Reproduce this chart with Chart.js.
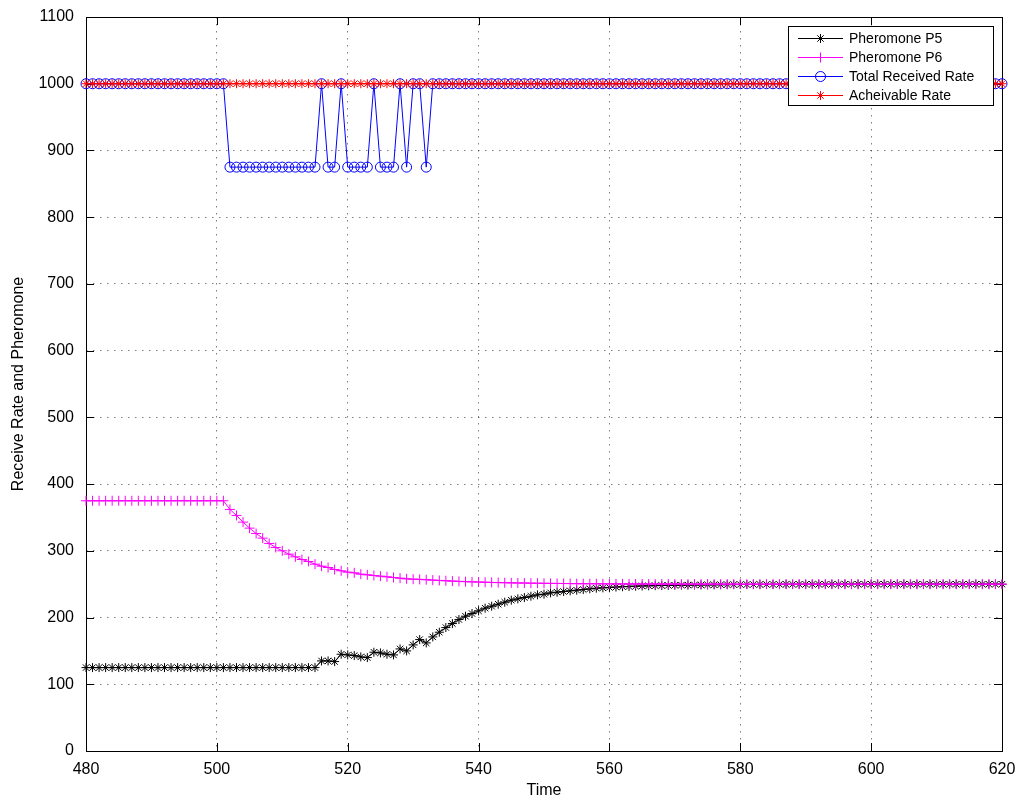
<!DOCTYPE html>
<html>
<head>
<meta charset="utf-8">
<script src="https://cdn.jsdelivr.net/npm/chart.js@4.4.1/dist/chart.umd.min.js"></script>
<style>
html,body{margin:0;padding:0;background:#fff;}
#wrap{width:1024px;height:802px;}
</style>
</head>
<body>
<div id="wrap"><canvas id="c" width="1024" height="802"></canvas></div>
<script>
const times = [480,481,482,483,484,485,486,487,488,489,490,491,492,493,494,495,496,497,498,499,
500,501,502,503,504,505,506,507,508,509,510,511,512,513,514,515,516,517,518,519,
520,521,522,523,524,525,526,527,528,529,530,531,532,533,534,535,536,537,538,539,
540,541,542,543,544,545,546,547,548,549,550,551,552,553,554,555,556,557,558,559,
560,561,562,563,564,565,566,567,568,569,570,571,572,573,574,575,576,577,578,579,
580,581,582,583,584,585,586,587,588,589,590,591,592,593,594,595,596,597,598,599,
600,601,602,603,604,605,606,607,608,609,610,611,612,613,614,615,616,617,618,619,620];

const pheromoneP5 = [
125,125,125,125,125,125,125,125,125,125,125,125,125,125,125,125,125,125,125,125, // 480-499
125,125,125,125,125,125,125,125,125,125,125,125,125,125,125,125,135,135,134,145, // 500-519
144,143,141,140,148,147,145,144,153,150,159,167,162,171,178,185,191,197,202,206, // 520-539
210,214,217,220,223,226,228,230,232,234,235,237,238,239,240,241,242,243,244,244.5, // 540-559
245.2,245.7,246.2,246.6,247,247.3,247.6,247.8,248,248.2,248.4,248.6,248.7,248.8,248.9,249,249.1,249.2,249.3,249.4, // 560-579
249.5,249.5,249.6,249.6,249.7,249.7,249.7,249.8,249.8,249.8,249.8,249.9,249.9,249.9,249.9,249.9,250,250,250,250, // 580-599
250,250,250,250,250,250,250,250,250,250,250,250,250,250,250,250,250,250,250,250,250 // 600-620
];

const pheromoneP6 = [
375,375,375,375,375,375,375,375,375,375,375,375,375,375,375,375,375,375,375,375, // 480-499
375,375,362,353,343,334,326,319,311,305,300,295,291,287,284,280,277,275,272,270, // 500-519
268,267,265,264,263,262,261,260,259,258,257.5,257.2,256.7,256.1,255.6,255.1,254.6,254.2,253.8,253.5, // 520-539
253.2,252.9,252.6,252.4,252.2,252.0,251.8,251.7,251.5,251.4,251.3,251.2,251.1,251.0,250.9,250.8,250.7,250.7,250.6,250.6, // 540-559
250.5,250.5,250.4,250.4,250.3,250.3,250.3,250.2,250.2,250.2,250.2,250.1,250.1,250.1,250.1,250.1,250.1,250.1,250.1,250.1, // 560-579
250,250,250,250,250,250,250,250,250,250,250,250,250,250,250,250,250,250,250,250, // 580-599
250,250,250,250,250,250,250,250,250,250,250,250,250,250,250,250,250,250,250,250,250 // 600-620
];

const totalReceivedRate = [
1000,1000,1000,1000,1000,1000,1000,1000,1000,1000,1000,1000,1000,1000,1000,1000,1000,1000,1000,1000, // 480-499
1000,1000,875,875,875,875,875,875,875,875,875,875,875,875,875,875,1000,875,875,1000, // 500-519
875,875,875,875,1000,875,875,875,1000,875,1000,1000,875,1000,1000,1000,1000,1000,1000,1000, // 520-539
1000,1000,1000,1000,1000,1000,1000,1000,1000,1000,1000,1000,1000,1000,1000,1000,1000,1000,1000,1000, // 540-559
1000,1000,1000,1000,1000,1000,1000,1000,1000,1000,1000,1000,1000,1000,1000,1000,1000,1000,1000,1000, // 560-579
1000,1000,1000,1000,1000,1000,1000,1000,1000,1000,1000,1000,1000,1000,1000,1000,1000,1000,1000,1000, // 580-599
1000,1000,1000,1000,1000,1000,1000,1000,1000,1000,1000,1000,1000,1000,1000,1000,1000,1000,1000,1000,1000 // 600-620
];

const achievableRate = [
1000,1000,1000,1000,1000,1000,1000,1000,1000,1000,1000,1000,1000,1000,1000,1000,1000,1000,1000,1000,
1000,1000,1000,1000,1000,1000,1000,1000,1000,1000,1000,1000,1000,1000,1000,1000,1000,1000,1000,1000,
1000,1000,1000,1000,1000,1000,1000,1000,1000,1000,1000,1000,1000,1000,1000,1000,1000,1000,1000,1000,
1000,1000,1000,1000,1000,1000,1000,1000,1000,1000,1000,1000,1000,1000,1000,1000,1000,1000,1000,1000,
1000,1000,1000,1000,1000,1000,1000,1000,1000,1000,1000,1000,1000,1000,1000,1000,1000,1000,1000,1000,
1000,1000,1000,1000,1000,1000,1000,1000,1000,1000,1000,1000,1000,1000,1000,1000,1000,1000,1000,1000,
1000,1000,1000,1000,1000,1000,1000,1000,1000,1000,1000,1000,1000,1000,1000,1000,1000,1000,1000,1000,1000
];

const seriesLabels = ['Pheromone P5','Pheromone P6','Total Received Rate','Acheivable Rate'];
const xTicks = [480,500,520,540,560,580,600,620];
const yTicks = [0,100,200,300,400,500,600,700,800,900,1000,1100];
const xTitle = 'Time';
const yTitle = 'Receive Rate and Pheromone';

const FONT = '"Liberation Sans", Arial, Helvetica, sans-serif';

function pts(arr){ return times.map((t,i)=>({x:t,y:arr[i]})); }

const styles = [
  {color:'#000000', point:'star', r:4.5, order:4},
  {color:'#ff00ff', point:'cross', r:5, order:2},
  {color:'#0000ff', point:'circle', r:5, order:3},
  {color:'#ff0000', point:'star', r:4.5, order:1}
];
const seriesData = [pheromoneP5, pheromoneP6, totalReceivedRate, achievableRate];

const datasets = seriesData.map((d,i)=>({
  label: seriesLabels[i],
  data: pts(d),
  borderColor: styles[i].color,
  backgroundColor: 'rgba(0,0,0,0)',
  borderWidth: 1,
  pointStyle: styles[i].point,
  pointRadius: styles[i].r,
  pointBorderColor: styles[i].color,
  pointBackgroundColor: 'rgba(0,0,0,0)',
  pointBorderWidth: 1,
  tension: 0,
  clip: false,
  order: styles[i].order
}));

const framePlugin = {
  id:'frame',
  beforeDatasetsDraw(chart){
    const {ctx, chartArea:a, scales} = chart;
    ctx.save();
    ctx.strokeStyle = '#000';
    ctx.lineWidth = 1;
    const L = 8;
    ctx.beginPath();
    xTicks.forEach(v=>{
      const x = Math.round(scales.x.getPixelForValue(v))+0.5;
      ctx.moveTo(x,a.bottom); ctx.lineTo(x,a.bottom-L);
      ctx.moveTo(x,a.top); ctx.lineTo(x,a.top+L);
    });
    yTicks.forEach(v=>{
      const y = Math.round(scales.y.getPixelForValue(v))+0.5;
      ctx.moveTo(a.left,y); ctx.lineTo(a.left+L,y);
      ctx.moveTo(a.right,y); ctx.lineTo(a.right-L,y);
    });
    ctx.stroke();
    ctx.strokeRect(Math.round(a.left)+0.5, Math.round(a.top)+0.5, Math.round(a.right-a.left), Math.round(a.bottom-a.top));
    ctx.restore();
  },
  afterDraw(chart){
    const ctx = chart.ctx;
    const bx = 788.5, by = 26.5, bw = 205, bh = 79;
    ctx.save();
    ctx.fillStyle = '#fff';
    ctx.fillRect(bx,by,bw,bh);
    ctx.strokeStyle = '#000';
    ctx.lineWidth = 1;
    ctx.strokeRect(bx,by,bw,bh);
    const rows = [38.5,57.5,76.5,95.5];
    ctx.font = '14px ' + FONT;
    ctx.textBaseline = 'middle';
    ctx.textAlign = 'left';
    chart.data.datasets.forEach((ds,i)=>{
      const y = rows[i];
      ctx.lineWidth = 1;
      ctx.strokeStyle = ds.borderColor;
      ctx.beginPath(); ctx.moveTo(798,y); ctx.lineTo(843,y); ctx.stroke();
      ctx.fillStyle = 'rgba(0,0,0,0)';
      ctx.strokeStyle = ds.borderColor;
      Chart.helpers.drawPoint(ctx, {pointStyle: ds.pointStyle, radius: ds.pointRadius, borderWidth:1, rotation:0}, 820.5, y);
      ctx.fillStyle = '#000';
      ctx.fillText(ds.label, 849, y+1);
    });
    ctx.restore();
  }
};

new Chart(document.getElementById('c'), {
  type:'line',
  data:{datasets},
  options:{
    responsive:false,
    animation:false,
    events:[],
    layout:{padding:{top:17,right:22,left:0,bottom:0}},
    plugins:{legend:{display:false}, tooltip:{enabled:false}},
    scales:{
      x:{
        type:'linear', min:480, max:620,
        afterBuildTicks(s){ s.ticks = xTicks.map(v=>({value:v})); },
        afterFit(s){ s.height = 51; s.paddingLeft = 0; s.paddingRight = 0; },
        grid:{color:'rgba(0,0,0,0.5)', lineWidth:1, drawTicks:false},
        border:{display:false, dash:[1.5,5.5]},
        ticks:{color:'#000', font:{family:FONT, size:16}, padding:9, maxRotation:0, autoSkip:false, callback:(v)=>String(v)},
        title:{display:true, text:xTitle, color:'#000', font:{family:FONT, size:16}, padding:{top:0,bottom:2}}
      },
      y:{
        type:'linear', min:0, max:1100,
        afterBuildTicks(s){ s.ticks = yTicks.map(v=>({value:v})); },
        afterFit(s){ s.width = 86; s.paddingTop = 0; s.paddingBottom = 0; },
        grid:{color:'rgba(0,0,0,0.5)', lineWidth:1, drawTicks:false},
        border:{display:false, dash:[1.5,5.5]},
        ticks:{color:'#000', font:{family:FONT, size:16}, padding:12, autoSkip:false, callback:(v)=>String(v)},
        title:{display:true, text:yTitle, color:'#000', font:{family:FONT, size:16}, padding:{top:9,bottom:0}}
      }
    }
  },
  plugins:[framePlugin]
});
</script>
</body>
</html>
